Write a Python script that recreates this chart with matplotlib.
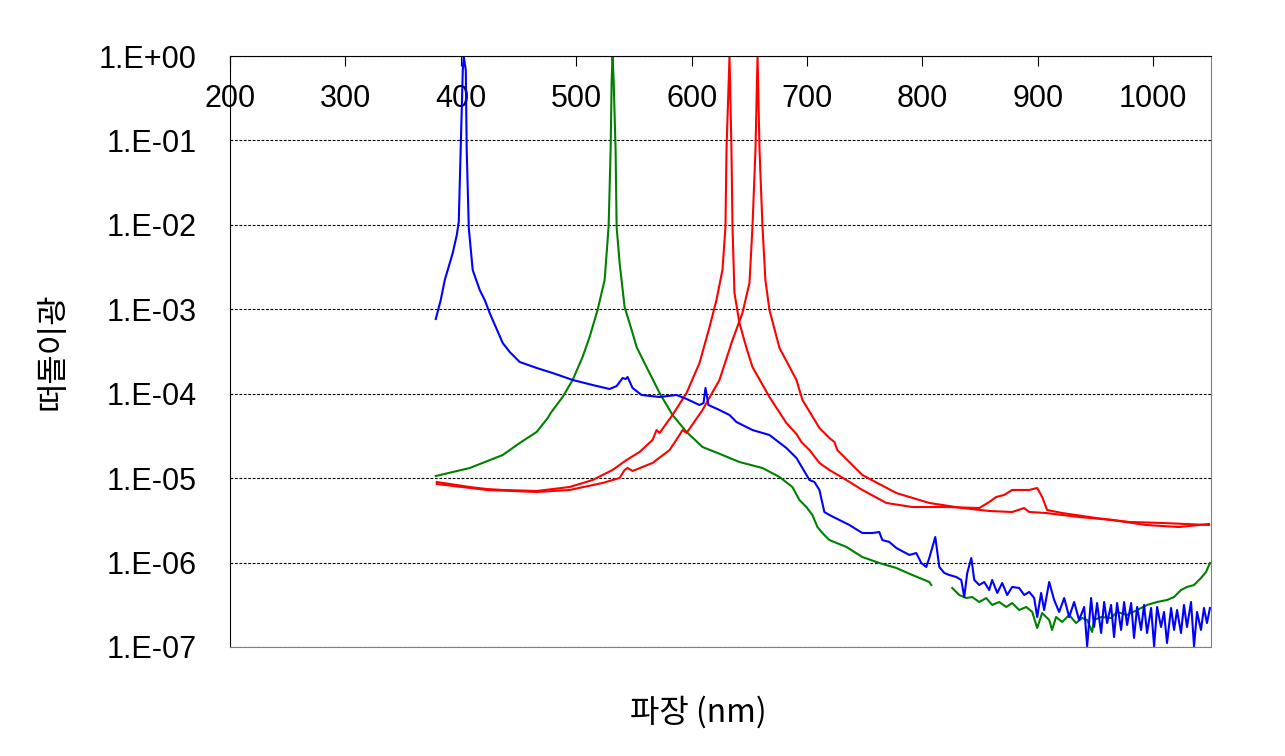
import numpy as np
import matplotlib.pyplot as plt
from matplotlib.ticker import FixedLocator, FixedFormatter

# 파장 (nm) 과 떠돌이광 (log10 값) - 그림에서 읽은 값
blue_nm = [378.3, 382.6, 386.1, 393.0, 396.5, 398.2, 399.9, 401.7, 402.5, 404.3, 405.1, 406.9,
           410.3, 416.4, 420.7, 425.0, 436.3, 442.4, 451.0, 465.7, 479.6, 496.9, 514.2, 528.9,
           535.0, 540.2, 542.8, 544.5, 548.8, 556.6, 572.2, 586.9, 595.6, 606.8, 610.3, 612.0,
           614.6, 624.1, 632.8, 638.8, 652.7, 667.4, 682.1, 690.8, 702.1, 706.4, 710.7, 715.0,
           719.3, 736.7, 747.9, 756.6, 762.6, 765.2, 771.3, 777.3, 788.6, 794.6, 799.0, 803.3,
           805.9, 811.1, 814.6, 818.9, 823.2, 829.3, 833.6, 836.2, 838.8, 842.3, 844.9, 849.2,
           853.5, 857.8, 860.4, 864.8, 869.1, 873.4, 877.7, 883.8, 888.1, 892.5, 896.8, 899.4,
           902.8, 905.4, 909.8, 914.1, 918.4, 922.8, 927.1, 931.4, 935.7, 940.1, 942.7, 946.1,
           948.7, 951.3, 954.8, 957.4, 960.0, 963.4, 966.0, 968.6, 972.1, 974.7, 977.3, 980.8,
           983.3, 986.0, 989.4, 992.0, 994.6, 998.1, 1000.7, 1003.3, 1006.7, 1009.3, 1011.9,
           1015.4, 1018.0, 1020.6, 1024.0, 1026.6, 1029.2, 1032.7, 1035.3, 1037.9, 1041.3,
           1043.9, 1046.5, 1049.1]
blue_log = [-3.115, -2.890, -2.653, -2.333, -2.120, -1.966, -1.113, -0.166, 0.0, -0.166, -1.113,
            -2.037, -2.535, -2.772, -2.890, -3.044, -3.399, -3.506, -3.624, -3.695, -3.755, -3.837,
            -3.897, -3.944, -3.909, -3.814, -3.826, -3.802, -3.932, -4.015, -4.039, -4.015, -4.062,
            -4.134, -4.110, -3.932, -4.134, -4.193, -4.252, -4.335, -4.430, -4.489, -4.643, -4.761,
            -5.022, -5.046, -5.140, -5.401, -5.436, -5.555, -5.650, -5.650, -5.638, -5.733, -5.756,
            -5.827, -5.910, -5.887, -6.005, -6.052, -5.946, -5.697, -6.052, -6.123, -6.147, -6.171,
            -6.206, -6.408, -6.123, -5.946, -6.206, -6.266, -6.230, -6.325, -6.206, -6.360, -6.242,
            -6.384, -6.289, -6.301, -6.384, -6.348, -6.420, -6.645, -6.360, -6.562, -6.230, -6.443,
            -6.585, -6.420, -6.645, -6.467, -6.680, -6.526, -6.990, -6.420, -6.763, -6.479, -6.834,
            -6.467, -6.716, -6.502, -6.882, -6.479, -6.798, -6.467, -6.739, -6.479, -6.893, -6.526,
            -6.798, -6.502, -6.834, -6.538, -6.990, -6.526, -6.763, -6.585, -6.953, -6.538, -6.798,
            -6.562, -6.834, -6.502, -6.763, -6.467, -6.990, -6.585, -6.798, -6.538, -6.716, -6.538]

green_nm = [378.3, 407.7, 436.3, 451.0, 465.7, 475.3, 477.9, 488.2, 496.9, 505.5, 511.6, 518.5,
            524.6, 527.2, 528.1, 529.8, 530.7, 531.5, 532.4, 534.1, 535.0, 537.6, 541.9, 548.8,
            552.3, 560.9, 572.2, 583.4, 595.6, 609.4, 626.7, 641.4, 661.4, 676.1, 687.3, 693.4,
            699.4, 704.6, 709.0, 713.3, 719.3, 734.1, 747.9, 762.6, 777.3, 791.2, 805.9, 807.6,
            816.0, 825.8, 831.9, 837.9, 843.1, 849.2, 855.2, 860.4, 866.5, 872.6, 877.7, 883.8,
            889.9, 895.1, 899.4, 903.7, 909.8, 912.3, 915.8, 921.0, 927.1, 933.1, 938.3, 942.7,
            947.0, 948.7, 954.8, 963.4, 968.6, 977.3, 986.0, 994.6, 1003.3, 1011.9, 1018.0,
            1024.0, 1029.2, 1035.3, 1041.3, 1045.7, 1049.1]
green_log = [-4.975, -4.880, -4.726, -4.584, -4.453, -4.288, -4.228, -4.039, -3.837, -3.565,
             -3.328, -3.008, -2.653, -2.179, -2.000, -1.113, -0.284, 0.0, -0.284, -1.113, -2.025,
             -2.452, -2.973, -3.281, -3.447, -3.684, -3.991, -4.252, -4.453, -4.631, -4.726,
             -4.809, -4.880, -4.986, -5.105, -5.259, -5.342, -5.436, -5.579, -5.650, -5.733,
             -5.815, -5.934, -6.005, -6.064, -6.147, -6.230, -6.266, np.nan, -6.301, -6.384,
             -6.420, -6.408, -6.467, -6.420, -6.502, -6.467, -6.526, -6.479, -6.562, -6.526,
             -6.585, -6.775, -6.597, -6.680, -6.798, -6.645, -6.704, -6.621, -6.716, -6.656,
             -6.680, -6.822, -6.680, -6.645, -6.656, -6.585, -6.621, -6.562, -6.502, -6.467,
             -6.443, -6.408, -6.325, -6.289, -6.266, -6.183, -6.112, -6.005]

red633_nm = [379.2, 390.4, 407.7, 422.5, 436.3, 465.7, 494.3, 514.2, 531.5, 543.6, 554.9, 566.1,
             569.6, 572.2, 583.4, 595.6, 606.8, 615.5, 621.5, 626.7, 629.3, 630.2, 632.8, 634.5,
             635.4, 637.1, 641.4, 647.5, 652.7, 667.4, 682.1, 690.8, 695.1, 702.1, 710.7, 719.3,
             734.1, 747.9, 768.7, 791.2, 820.6, 849.2, 857.8, 863.9, 870.8, 877.7, 892.5, 899.4,
             903.7, 908.0, 921.0, 950.4, 979.0, 1007.6, 1048.3]
red633_log = [-5.046, -5.069, -5.105, -5.129, -5.140, -5.152, -5.105, -5.022, -4.903, -4.785,
              -4.690, -4.548, -4.430, -4.465, -4.252, -3.991, -3.636, -3.210, -2.890, -2.535,
              -2.025, -1.113, 0.0, -1.113, -2.025, -2.807, -3.162, -3.458, -3.684, -4.039, -4.347,
              -4.477, -4.572, -4.667, -4.820, -4.903, -5.022, -5.140, -5.294, -5.342, -5.342,
              -5.354, -5.283, -5.223, -5.199, -5.140, -5.140, -5.117, -5.223, -5.377, -5.413,
              -5.472, -5.519, -5.531, -5.555]

red655_nm = [379.2, 422.5, 465.7, 494.3, 522.9, 537.6, 541.9, 544.5, 548.8, 566.1, 580.9, 589.5,
             592.1, 595.6, 609.4, 624.1, 635.4, 644.0, 650.1, 652.7, 655.3, 657.1, 658.8, 661.4,
             663.9, 667.4, 676.1, 690.8, 696.0, 710.7, 719.3, 723.7, 726.2, 747.9, 777.3, 805.9,
             834.5, 857.8, 877.7, 888.1, 892.5, 907.2, 935.7, 964.3, 993.7, 1022.3, 1048.3]
red655_log = [-5.069, -5.140, -5.164, -5.140, -5.057, -4.998, -4.903, -4.880, -4.915, -4.820,
              -4.667, -4.489, -4.430, -4.465, -4.193, -3.837, -3.364, -3.044, -2.689, -2.025,
              -1.113, 0.0, -1.113, -2.025, -2.653, -3.008, -3.458, -3.837, -4.074, -4.406, -4.524,
              -4.572, -4.667, -4.963, -5.176, -5.294, -5.354, -5.389, -5.401, -5.354, -5.401,
              -5.413, -5.460, -5.496, -5.555, -5.579, -5.543]

x_ticks = [200, 300, 400, 500, 600, 700, 800, 900, 1000]
y_ticks = [1e0, 1e-1, 1e-2, 1e-3, 1e-4, 1e-5, 1e-6, 1e-7]
y_labels = ["1.E+00", "1.E-01", "1.E-02", "1.E-03", "1.E-04", "1.E-05", "1.E-06", "1.E-07"]

plt.rcParams['font.family'] = ['Liberation Sans', 'Noto Sans CJK KR']

fig = plt.figure(figsize=(12.85, 7.56), dpi=100)
ax = fig.add_axes([230 / 1285, 1 - 647 / 756, 981 / 1285, 591 / 756])

ax.plot(green_nm, 10 ** np.array(green_log), color='#008000', lw=1.5)
ax.plot(red633_nm, 10 ** np.array(red633_log), color='#ff0000', lw=1.5)
ax.plot(red655_nm, 10 ** np.array(red655_log), color='#ff0000', lw=1.5)
ax.plot(blue_nm, 10 ** np.array(blue_log), color='#0000ff', lw=1.5)

ax.set_yscale('log')
ax.set_xlim(200, 1050)
ax.set_ylim(1e-7, 1)
ax.yaxis.set_major_locator(FixedLocator(y_ticks))
ax.yaxis.set_major_formatter(FixedFormatter(y_labels))
ax.yaxis.set_minor_locator(FixedLocator([]))
ax.set_xticks(x_ticks)
ax.grid(axis='y', color='black', linestyle=(0, (2.5, 1.5)), linewidth=0.8)

ax.tick_params(axis='x', top=True, bottom=False, labeltop=True, labelbottom=False,
               direction='in', length=7.5, width=0.8, pad=-42, labelsize=22)
ax.tick_params(axis='y', length=0, pad=24, labelsize=22)

for s in ['top', 'left']:
    ax.spines[s].set_color('black')
for s in ['right', 'bottom']:
    ax.spines[s].set_color('#808080')

ax.set_xlabel("파장 (nm)", fontsize=23, family=['Noto Sans CJK KR'], va='center')
ax.xaxis.set_label_coords((698 - 230) / 981, -0.11)
ax.set_ylabel("떠돌이광", fontsize=23, family=['Noto Sans CJK KR'], va='center')
ax.yaxis.set_label_coords(-0.181, 0.5)

plt.savefig("out.png")
